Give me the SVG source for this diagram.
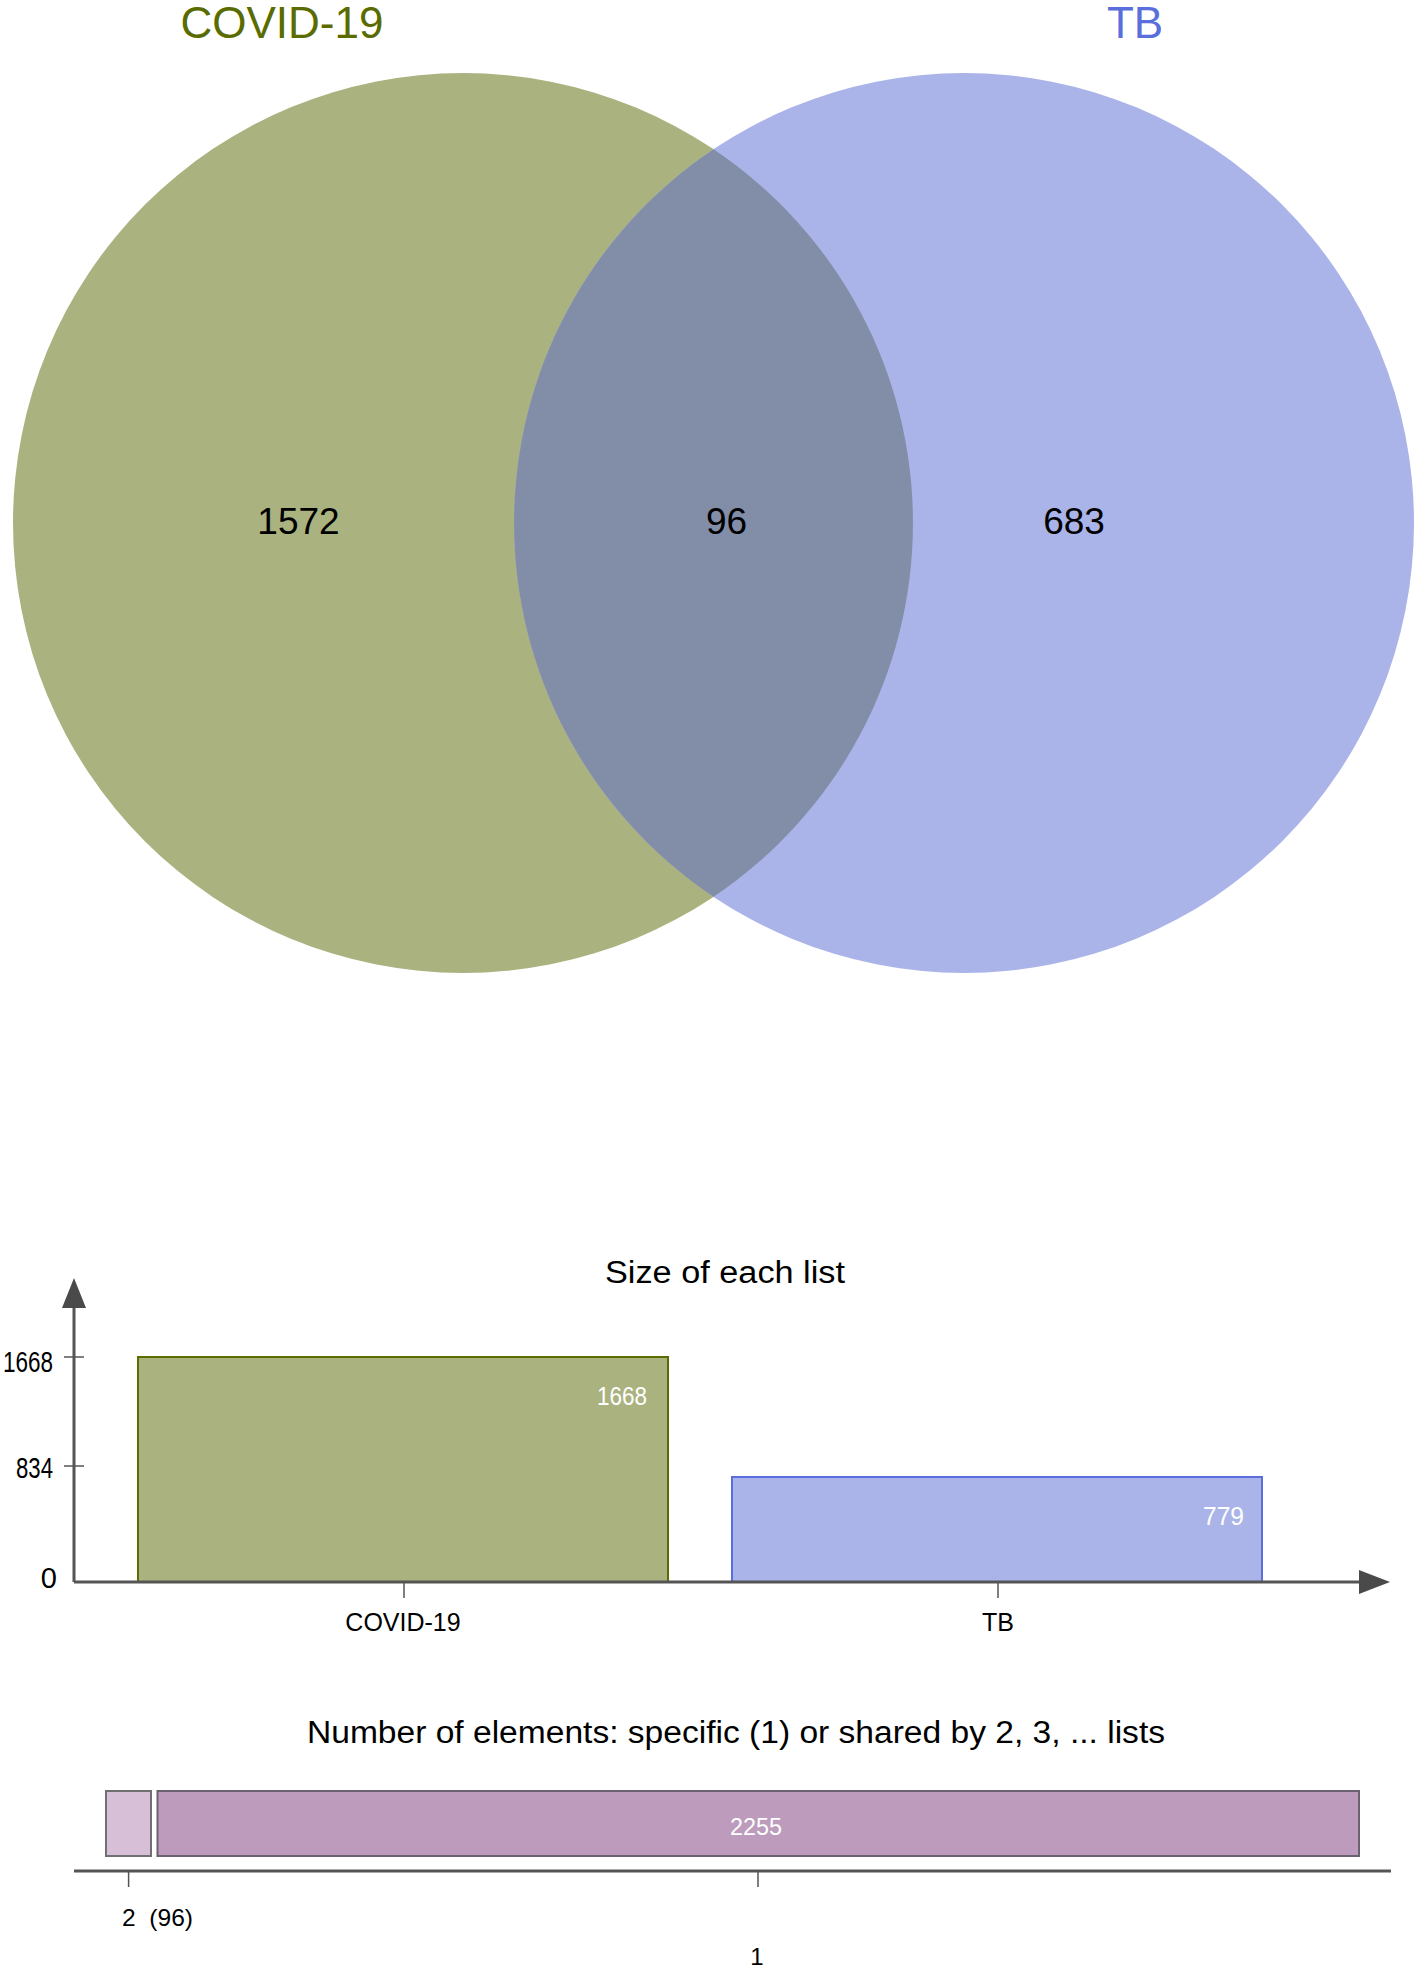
<svg xmlns="http://www.w3.org/2000/svg" width="1417" height="1968" viewBox="0 0 1417 1968">
<style>
text{font-family:"Liberation Sans",Arial,sans-serif;}
.title{font-size:44px;text-anchor:middle;}
.num{font-size:37px;text-anchor:middle;fill:#000;}
.ctitle{font-size:31px;fill:#000;}
.ylab{font-size:29px;text-anchor:end;fill:#000;}
.xlab{font-size:25px;text-anchor:middle;fill:#000;}
.barlab{font-size:25px;text-anchor:end;fill:#fff;}
.axis{stroke:#555;stroke-width:3;fill:none;}
.tick{stroke:#555;stroke-width:1.5;fill:none;}
.arrow{fill:#4a4a4a;}
</style>
<rect width="1417" height="1968" fill="#fff"/>
<g id="venn">
  <g id="set-covid">
    <circle cx="463" cy="523" r="450" fill="#AAB27F"/>
    <text class="title" x="282" y="38" fill="#5A6B00">COVID-19</text>
  </g>
  <g id="set-tb">
    <circle cx="964" cy="523" r="450" fill="#AAB4E8"/>
    <text class="title" x="1135" y="38" fill="#5B6FDC">TB</text>
  </g>
  <g id="overlap">
    <path d="M713.5 149.2 A450 450 0 0 1 713.5 896.8 A450 450 0 0 1 713.5 149.2 Z" fill="#828EA8"/>
  </g>
  <text class="num" x="298.5" y="534">1572</text>
  <text class="num" x="726.5" y="534">96</text>
  <text class="num" x="1074" y="534">683</text>
</g>
<g id="size-chart">
  <text class="ctitle" x="605" y="1283" textLength="240" lengthAdjust="spacingAndGlyphs">Size of each list</text>
  <g id="bar-covid">
    <rect x="138" y="1357" width="530" height="225" fill="#AAB27F" stroke="#5A6E00" stroke-width="2"/>
    <text class="barlab" x="647" y="1405" textLength="50" lengthAdjust="spacingAndGlyphs">1668</text>
  </g>
  <g id="bar-tb">
    <rect x="732" y="1477" width="530" height="105" fill="#AAB4E8" stroke="#5A6EDC" stroke-width="2"/>
    <text class="barlab" x="1244" y="1525" textLength="41" lengthAdjust="spacingAndGlyphs">779</text>
  </g>
  <g id="size-axes">
    <line class="axis" x1="74" y1="1300" x2="74" y2="1582"/>
    <polygon class="arrow" points="74,1278 62,1308 86,1308"/>
    <line class="axis" x1="74" y1="1582" x2="1365" y2="1582"/>
    <polygon class="arrow" points="1390,1582 1359,1570 1359,1594"/>
    <line class="tick" x1="64" y1="1357" x2="84" y2="1357"/>
    <line class="tick" x1="64" y1="1466" x2="84" y2="1466"/>
    <line class="tick" x1="404" y1="1582" x2="404" y2="1598"/>
    <line class="tick" x1="998" y1="1582" x2="998" y2="1598"/>
    <text class="ylab" x="53" y="1372" textLength="50" lengthAdjust="spacingAndGlyphs">1668</text>
    <text class="ylab" x="53" y="1478" textLength="37" lengthAdjust="spacingAndGlyphs">834</text>
    <text class="ylab" x="57" y="1588">0</text>
    <text class="xlab" x="403" y="1631">COVID-19</text>
    <text class="xlab" x="998" y="1631">TB</text>
  </g>
</g>
<g id="shared-chart">
  <text class="ctitle" x="307" y="1743" textLength="858" lengthAdjust="spacingAndGlyphs">Number of elements: specific (1) or shared by 2, 3, ... lists</text>
  <g id="bar-shared-2">
    <rect x="106" y="1791" width="45" height="65" fill="#D7C0D7" stroke="#707070" stroke-width="2"/>
  </g>
  <g id="bar-specific-1">
    <rect x="157.5" y="1791" width="1201.5" height="65" fill="#BD9BBC" stroke="#6A6270" stroke-width="2"/>
    <text x="730" y="1835" font-size="24" fill="#fff" textLength="52" lengthAdjust="spacingAndGlyphs">2255</text>
  </g>
  <g id="shared-axis">
    <line class="axis" x1="74" y1="1871" x2="1391" y2="1871"/>
    <line class="tick" x1="128.6" y1="1871" x2="128.6" y2="1887"/>
    <line class="tick" x1="758" y1="1871" x2="758" y2="1887"/>
    <text x="122" y="1926" font-size="24" fill="#000" textLength="71" lengthAdjust="spacingAndGlyphs" xml:space="preserve">2  (96)</text>
    <text x="757" y="1965" font-size="24" fill="#000" text-anchor="middle">1</text>
  </g>
</g>
</svg>
